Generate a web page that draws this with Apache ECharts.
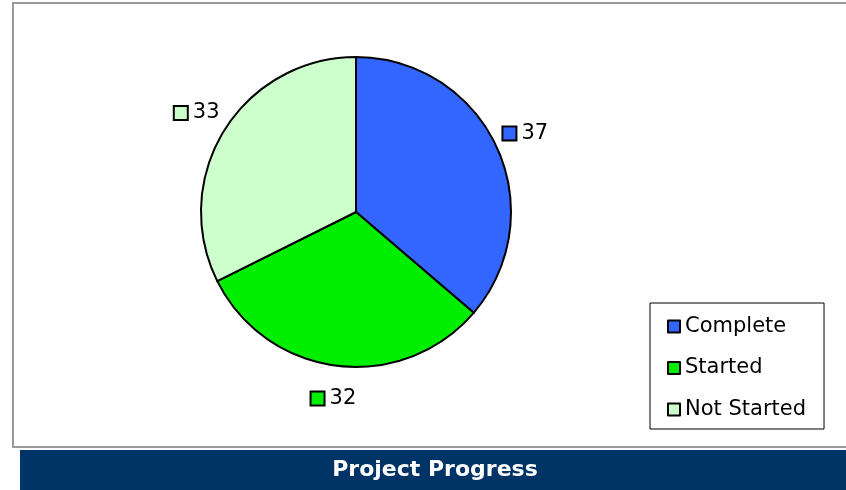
<!DOCTYPE html>
<html>
<head>
<meta charset="utf-8">
<style>
  html, body { margin: 0; padding: 0; background: #ffffff; }
  #chart { width: 846px; height: 490px; }
</style>
<script src="https://cdn.jsdelivr.net/npm/echarts@6/dist/echarts.min.js"></script>
</head>
<body>
<div id="chart"></div>
<script>
var categories = ['Complete', 'Started', 'Not Started'];
var values = [37, 32, 33];
var colors = ['#3366FF', '#00EE00', '#CCFFCC'];
var chartTitle = 'Project Progress';

var FONT = 'DejaVu Sans';
var chart = echarts.init(document.getElementById('chart'), null, { renderer: 'canvas' });

var rich = {
  v: { fontSize: 21, fontFamily: FONT, color: '#000', padding: [0, 0, 0, 6] }
};
colors.forEach(function (c, i) {
  rich['s' + i] = { width: 12, height: 12, backgroundColor: c, borderColor: '#000', borderWidth: 2 };
});

var data = categories.map(function (name, i) {
  return { name: name, value: values[i], itemStyle: { color: colors[i] } };
});

chart.setOption({
  animation: false,
  backgroundColor: '#ffffff',
  graphic: [
    {
      type: 'rect',
      shape: { x: 13, y: 3, width: 900, height: 444 },
      style: { fill: 'none', stroke: '#999999', lineWidth: 2 },
      silent: true
    },
    {
      type: 'rect',
      shape: { x: 20, y: 450, width: 826, height: 40 },
      style: { fill: '#003366' },
      silent: true
    },
    {
      type: 'text',
      x: 435,
      y: 470,
      style: {
        text: chartTitle,
        fill: '#ffffff',
        font: 'bold 22px "DejaVu Sans"',
        align: 'center',
        verticalAlign: 'middle'
      },
      silent: true
    }
  ],
  legend: {
    orient: 'vertical',
    left: 650,
    top: 303,
    padding: [13, 18, 9, 17],
    itemGap: 20.5,
    itemWidth: 12,
    itemHeight: 12,
    icon: 'rect',
    borderColor: '#000',
    borderWidth: 1,
    backgroundColor: '#fff',
    itemStyle: { borderColor: '#000', borderWidth: 2 },
    textStyle: { fontSize: 21, fontFamily: FONT, color: '#000' },
    data: categories
  },
  series: [{
    type: 'pie',
    center: [356, 212],
    radius: 155,
    startAngle: 90,
    clockwise: true,
    avoidLabelOverlap: false,
    itemStyle: { borderColor: '#000', borderWidth: 2 },
    label: {
      show: true,
      position: 'outside',
      distanceToLabelLine: 0,
      formatter: function (p) { return '{s' + p.dataIndex + '|}{v|' + p.value + '}'; },
      rich: rich
    },
    labelLine: { show: false, length: 33, length2: 0 },
    labelLayout: function (p) {
      var w = p.labelRect.width;
      var dx = 0;
      if (p.align === 'left') dx = -w / 2;
      else if (p.align === 'right') dx = w / 2;
      return { dx: dx };
    },
    emphasis: { disabled: true },
    data: data
  }]
});
</script>
</body>
</html>
